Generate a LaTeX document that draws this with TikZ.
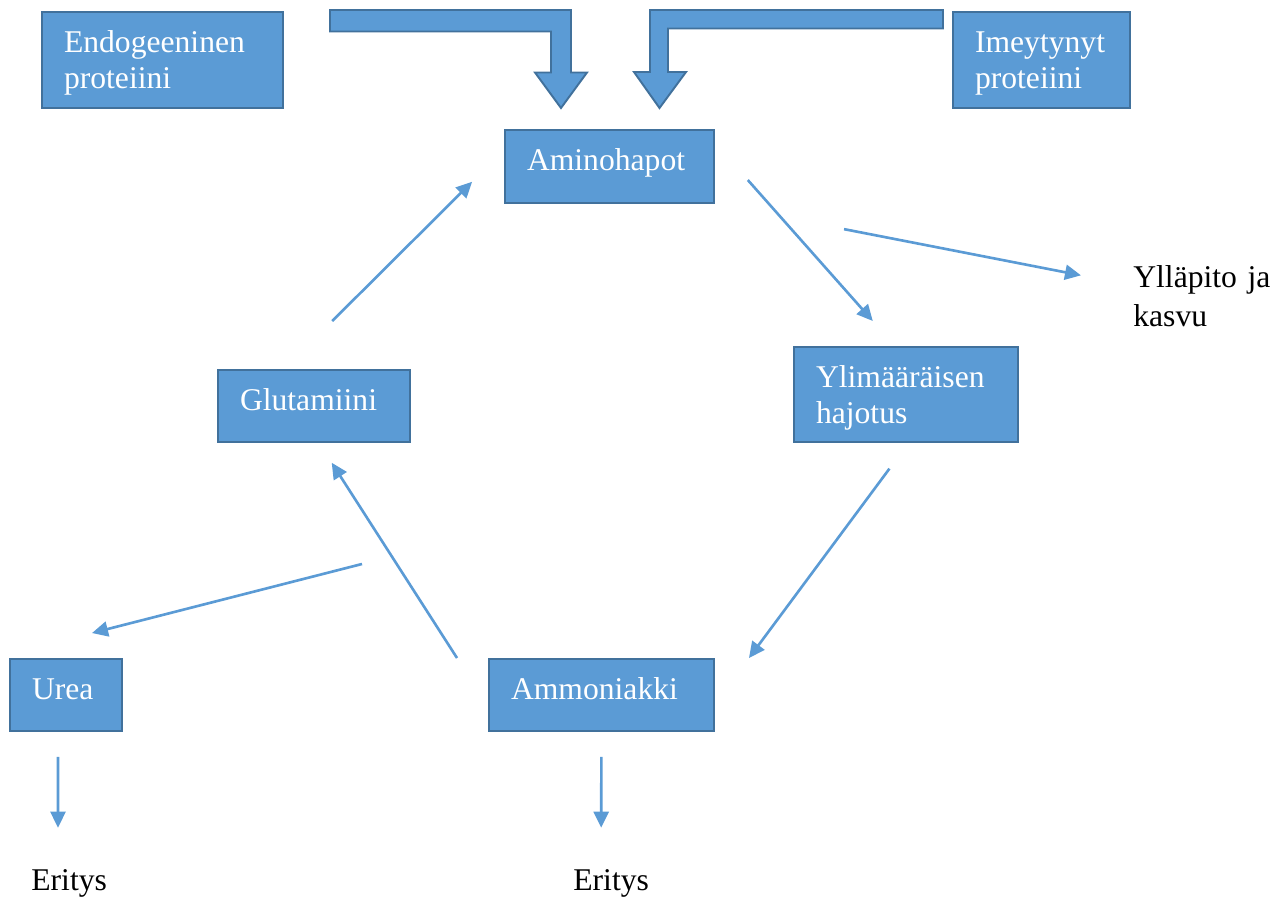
\documentclass[tikz,border=0pt]{standalone}
\usepackage{fontspec}
\setmainfont{Liberation Serif}
\usepackage{xcolor}
\usepackage{tikz}
\usetikzlibrary{arrows.meta}
\usetikzlibrary{positioning}
\definecolor{boxblue}{HTML}{5B9BD5}
\definecolor{boxedge}{HTML}{41719C}

\begin{document}
\begin{tikzpicture}[
    font=\fontsize{18}{20.5}\selectfont,
    cell/.style={draw=boxedge, fill=boxblue, line width=1.1pt, text=white,
      align=left, inner xsep=0.44cm, inner ysep=0pt, text height=0.81cm},
    plain/.style={inner sep=0pt, align=left},
    link/.style={draw=boxblue, line width=1.5pt, -{Triangle[length=0.32cm,width=0.3cm]}},
    bigarrow/.style={draw=boxedge, fill=boxblue, line width=1.1pt, line join=miter}
]
\useasboundingbox (0,0) rectangle (25.62,17.94);

\node[cell, text width=3.94cm, text depth=1.11cm] (endo) at (3.25,16.74) {Endogeeninen\\proteiini};
\node[cell, text width=2.66cm, text depth=1.11cm] (imey) at (20.83,16.74) {Imeytynyt\\proteiini};
\node[cell, text width=3.30cm, text depth=0.65cm] (amino) at (12.19,14.61) {Aminohapot};
\node[cell, text width=2.96cm, text depth=0.63cm] (glut) at (6.28,9.82) {Glutamiini};
\node[cell, text width=3.60cm, text depth=1.09cm] (ylim) at (18.12,10.05) {Ylimääräisen\\hajotus};
\node[cell, text width=1.36cm, text depth=0.63cm] (urea) at (1.32,4.04) {Urea};
\node[cell, text width=3.62cm, text depth=0.63cm] (ammo) at (12.03,4.04) {Ammoniakki};

\node[plain, text width=3cm, font=\fontsize{18}{22}\selectfont, anchor=base west] (yll) at (22.66,12.18) {Ylläpito ja\\kasvu};
\node[plain, anchor=base west] (eritysA) at (0.62,0.14) {Eritys};
\node[plain, anchor=base west] (eritysB) at (11.46,0.14) {Eritys};
\coordinate (split) at (7.24,6.66);

\draw[bigarrow] (6.6,17.74) -- (11.42,17.74) -- (11.42,16.49) -- (11.74,16.49) -- (11.22,15.78)
  -- (10.7,16.49) -- (11.02,16.49) -- (11.02,17.31) -- (6.6,17.31) -- cycle;
\draw[bigarrow] (18.86,17.74) -- (13.0,17.74) -- (13.0,16.5) -- (12.68,16.5) -- (13.19,15.78)
  -- (13.72,16.5) -- (13.36,16.5) -- (13.36,17.37) -- (18.86,17.37) -- cycle;

\draw[link, shorten <=1.36cm, shorten >=0.9cm] ([xshift=-0.6cm]glut.north) -- ([yshift=0.33cm]amino.west);
\draw[link, shorten <=0.99cm, shorten >=0.67cm] ([yshift=0.47cm]amino.east) -- ([xshift=-0.22cm]ylim.north);
\draw[link, shorten <=2.63cm, shorten >=1.06cm] (amino.south east) -- ([yshift=0.05cm]yll.base west);
\draw[link, shorten <=0.64cm] ([xshift=0.05cm]ylim.south) -- ([xshift=0.68cm]ammo.north east);
\draw[link, shorten >=0.47cm] ([xshift=-0.62cm]ammo.north west) -- ([xshift=0.1cm]glut.south);
\draw[link] (split) -- ([xshift=0.52cm,yshift=0.5cm]urea.north);
\draw[link, shorten <=0.5cm, shorten >=0.82cm] ([xshift=-0.16cm]urea.south) -- ([xshift=0.54cm]eritysA.north west);
\draw[link, shorten <=0.5cm, shorten >=0.82cm] (ammo.south) -- ([xshift=0.56cm]eritysB.north west);
\end{tikzpicture}
\end{document}
